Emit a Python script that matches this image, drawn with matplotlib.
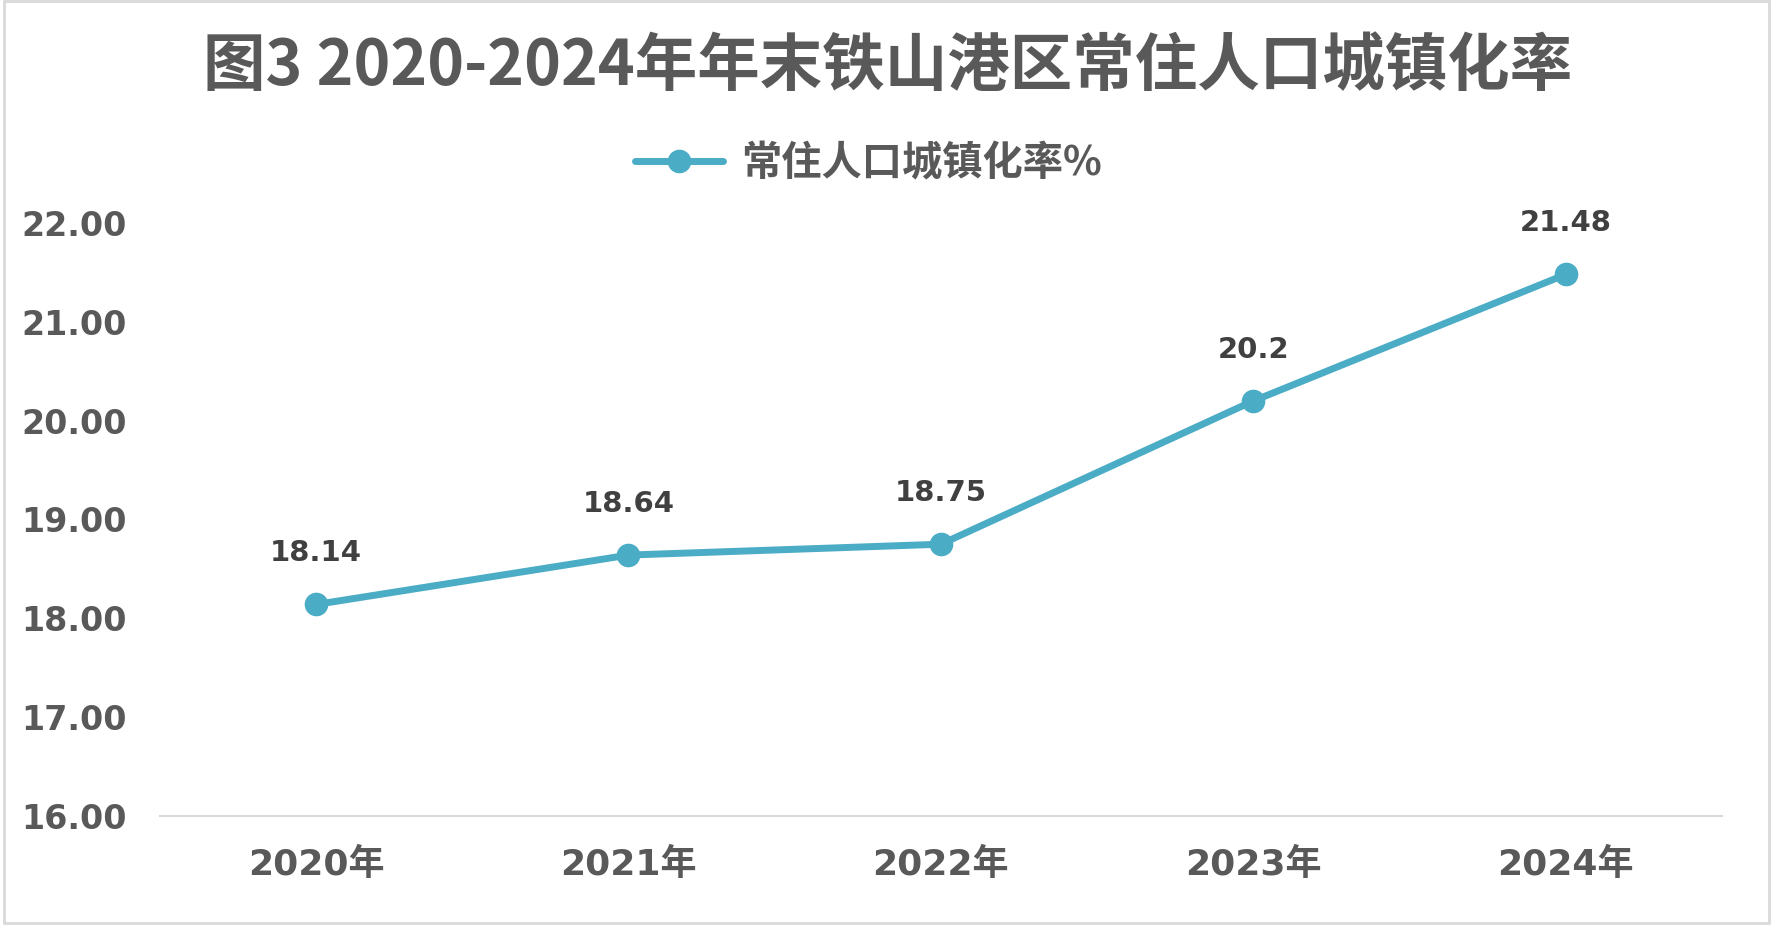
import matplotlib
matplotlib.use('Agg')
import matplotlib.pyplot as plt
from matplotlib.patches import Rectangle

# data
years = ['2020年', '2021年', '2022年', '2023年', '2024年']
rate = [18.14, 18.64, 18.75, 20.2, 21.48]
rate_labels = ['18.14', '18.64', '18.75', '20.2', '21.48']
yticks = [16, 17, 18, 19, 20, 21, 22]

title = '图3 2020-2024年年末铁山港区常住人口城镇化率'
series_name = '常住人口城镇化率%'

line_col = '#4BACC6'
txt_col = '#595959'
lbl_col = '#404040'
mixed = ['DejaVu Sans', 'Noto Sans CJK SC']
cjk = ['Noto Sans CJK SC', 'DejaVu Sans']

fig = plt.figure(figsize=(17.76, 9.30), dpi=100)
ax = fig.add_axes([0.090, 0.1226, 0.8796, 0.6376])

x = list(range(len(years)))
ax.plot(x, rate, color=line_col, linewidth=5, marker='o', markersize=16,
        solid_capstyle='round', label=series_name)

# data labels
for i in x:
    ax.annotate(rate_labels[i], xy=(i, rate[i]), xytext=(0, 37),
                textcoords='offset points', ha='center', va='center',
                fontsize=21, fontweight='bold', color=lbl_col, family=mixed)

ax.set_xlim(-0.5, len(years) - 0.5)
ax.set_ylim(16, 22)
ax.set_xticks(x)
ax.set_xticklabels(years, family=mixed, fontsize=26, fontweight='bold', color=txt_col)
ax.set_yticks(yticks)
ax.set_yticklabels(['%.2f' % v for v in yticks], family=mixed, fontsize=24,
                   fontweight='bold', color=txt_col)
ax.tick_params(axis='both', length=0)
ax.tick_params(axis='y', pad=24)
ax.tick_params(axis='x', pad=23)

for s in ['top', 'right', 'left']:
    ax.spines[s].set_visible(False)
ax.spines['bottom'].set_color('#D9D9D9')
ax.spines['bottom'].set_linewidth(1.5)

# title and legend
fig.text(0.5, 0.928, title, ha='center', va='center', fontsize=45,
         fontweight='bold', color=txt_col, family=cjk)
leg = fig.legend(loc='center', bbox_to_anchor=(0.489, 0.824), frameon=False,
                 prop={'family': cjk, 'size': 29, 'weight': 'bold'},
                 handlelength=2.2, handletextpad=0.45, labelcolor=txt_col)

# chart border
fig.patches.append(Rectangle((0.002, 0.007), 0.994, 0.992, transform=fig.transFigure,
                             fill=False, edgecolor='#D9D9D9', linewidth=2))

fig.savefig('out.png', dpi=100)
